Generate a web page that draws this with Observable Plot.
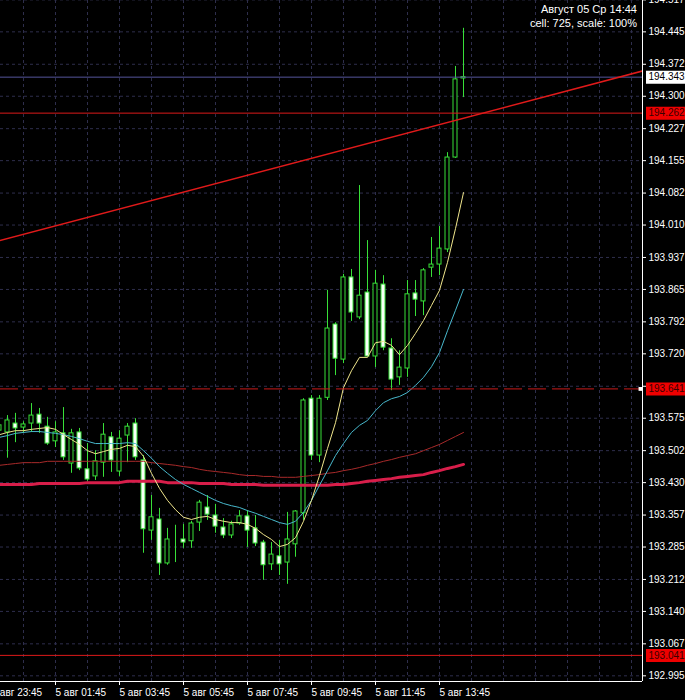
<!DOCTYPE html>
<html>
<head>
<meta charset="utf-8">
<script src="https://cdn.jsdelivr.net/npm/d3@7"></script>
<script src="https://cdn.jsdelivr.net/npm/@observablehq/plot@0.6"></script>
<style>
html,body{margin:0;padding:0;background:#000;overflow:hidden;}
#chart{position:relative;width:685px;height:700px;background:#000;}
#chart svg{display:block;}
#info{position:absolute;right:48px;top:2px;color:#fff;font:11px "Liberation Sans",Arial,sans-serif;text-align:right;line-height:14px;}
</style>
</head>
<body>
<div id="chart"></div>
<script>
// ---- Data (M15 bars, 5 авг, prices) ----
const firstBarMinute = 0;      // 00:00, 5 авг
const barMinutes = 15;
const open = [193.547,193.543,193.563,193.554,193.563,193.583,193.556,193.523,193.541,193.473,193.543,193.460,193.444,193.475,193.532,193.455,193.536,193.563,193.480,193.322,193.347,193.248,193.300,193.302,193.298,193.340,193.374,193.356,193.329,193.311,193.338,193.354,193.327,193.295,193.246,193.264,193.250,193.291,193.361,193.619,193.491,193.621,193.786,193.707,193.892,193.802,193.858,193.714,193.876,193.732,193.667,193.687,193.856,193.838,193.914,193.921,193.955,194.162,194.340];
const high = [193.570,193.581,193.586,193.567,193.608,193.597,193.577,193.567,193.599,193.550,193.552,193.518,193.502,193.563,193.543,193.547,193.563,193.574,193.491,193.401,193.372,193.327,193.334,193.336,193.343,193.390,193.401,193.381,193.349,193.343,193.367,193.367,193.356,193.300,193.295,193.300,193.363,193.367,193.619,193.626,193.626,193.863,193.790,193.899,193.910,194.099,193.975,193.908,193.896,193.754,193.727,193.885,193.885,193.912,193.982,194.007,194.173,194.367,194.453];
const low = [193.525,193.485,193.520,193.541,193.543,193.541,193.514,193.509,193.480,193.451,193.457,193.433,193.435,193.442,193.453,193.444,193.475,193.480,193.271,193.300,193.221,193.244,193.250,193.282,193.282,193.320,193.345,193.316,193.304,193.304,193.334,193.284,193.286,193.210,193.232,193.221,193.201,193.262,193.345,193.480,193.475,193.615,193.671,193.698,193.793,193.797,193.714,193.689,193.727,193.637,193.649,193.667,193.804,193.806,193.892,193.896,193.948,194.160,194.297];
const close = [193.559,193.570,193.552,193.561,193.581,193.563,193.518,193.543,193.487,193.541,193.462,193.437,193.478,193.538,193.480,193.529,193.556,193.487,193.325,193.352,193.248,193.302,193.300,193.295,193.338,193.385,193.358,193.331,193.311,193.336,193.354,193.322,193.293,193.244,193.268,193.246,193.302,193.365,193.615,193.491,193.619,193.777,193.709,193.892,193.813,193.851,193.714,193.878,193.734,193.662,193.689,193.854,193.842,193.908,193.921,193.957,194.162,194.338,194.343];

// moving averages
const maFast = [193.538,193.543,193.547,193.547,193.550,193.552,193.554,193.550,193.538,193.527,193.516,193.502,193.495,193.500,193.505,193.507,193.514,193.511,193.489,193.451,193.417,193.390,193.369,193.352,193.347,193.352,193.354,193.347,193.343,193.340,193.340,193.336,193.327,193.313,193.302,193.286,193.291,193.306,193.343,193.390,193.446,193.507,193.565,193.644,193.682,193.712,193.712,193.745,193.748,193.739,193.718,193.739,193.766,193.795,193.829,193.863,193.926,194.002,194.083];
const maMid = [193.532,193.536,193.541,193.543,193.545,193.545,193.543,193.541,193.538,193.534,193.529,193.523,193.518,193.518,193.518,193.518,193.520,193.518,193.502,193.485,193.466,193.451,193.437,193.426,193.417,193.408,193.399,193.390,193.383,193.378,193.374,193.367,193.361,193.354,193.347,193.340,193.336,193.343,193.363,193.390,193.424,193.457,193.491,193.518,193.543,193.559,193.570,193.592,193.610,193.619,193.624,193.633,193.649,193.667,193.691,193.723,193.772,193.818,193.865];
const maSlow = [193.469,193.471,193.473,193.475,193.475,193.475,193.478,193.478,193.478,193.478,193.478,193.478,193.478,193.478,193.478,193.478,193.478,193.478,193.478,193.475,193.473,193.471,193.469,193.466,193.464,193.460,193.457,193.455,193.453,193.451,193.448,193.446,193.446,193.444,193.444,193.442,193.442,193.442,193.444,193.446,193.448,193.451,193.453,193.457,193.460,193.464,193.469,193.473,193.478,193.482,193.487,193.491,193.495,193.502,193.509,193.516,193.525,193.534,193.543];
const maLong = [193.426,193.426,193.426,193.426,193.426,193.428,193.428,193.428,193.428,193.428,193.428,193.430,193.430,193.430,193.430,193.430,193.433,193.433,193.433,193.433,193.433,193.430,193.430,193.430,193.430,193.428,193.428,193.428,193.428,193.426,193.426,193.426,193.426,193.424,193.424,193.424,193.424,193.424,193.424,193.424,193.424,193.424,193.426,193.426,193.428,193.430,193.433,193.435,193.437,193.439,193.442,193.444,193.446,193.448,193.453,193.457,193.462,193.466,193.471];

// price axis ticks (193.647 is covered by the 193.641 level label)
const yTicks = [194.517,194.445,194.372,194.300,194.227,194.155,194.082,194.010,193.937,193.865,193.792,193.720,193.647,193.575,193.502,193.430,193.357,193.285,193.212,193.140,193.067,192.995];
const yHiddenLabels = [193.647];
// time axis: tick minutes (relative to 5 авг 00:00) and grid minutes
const xTicks = [-15,105,225,345,465,585,705,825];
const gridMinutes = [45,105,165,225,285,345,405,465,525,585,645,705,765,825,885,945,1005,1065,1125,1185];

// chart objects
const bidPrice = 194.343;
const levelPrices = [194.262, 193.041];
const dashedLevel = 193.641;
const trendMinutes = [0, 1206];
const trendPrices = [193.975, 194.357];
const priceLabels = [
  {price: 194.343, text: "194.343", bg: "#ffffff", fg: "#000000"},
  {price: 194.262, text: "194.262", bg: "#ee0000", fg: "#3a0000"},
  {price: 193.641, text: "193.641", bg: "#ee0000", fg: "#3a0000"},
  {price: 193.041, text: "193.041", bg: "#ee0000", fg: "#3a0000"}
];

// ---- build ----
const bars = open.map((o, i) => ({
  t: firstBarMinute + i * barMinutes, o, h: high[i], l: low[i], c: close[i],
  f: maFast[i], m: maMid[i], s: maSlow[i], L: maLong[i]
}));

const W = 685, H = 700, mR = 43, mB = 19;
const xDomain = [15 / 8, 643 * 15 / 8];
const yDomain = [192.9822, 194.5156];
const pxT = 15 / 8;               // minutes per pixel
const half = 2 * pxT;             // body half width
const green = "#38e038";
const grid = "#2e2e4c";
const font = "Liberation Sans, Arial, sans-serif";
const fmtT = m => {
  const mm = ((m % 1440) + 1440) % 1440;
  const hh = String(Math.floor(mm / 60)).padStart(2, "0");
  const mi = String(mm % 60).padStart(2, "0");
  return (m < 0 ? "4 авг " : "5 авг ") + hh + ":" + mi;
};
const fmtY = d => yHiddenLabels.includes(d) ? "" : d.toFixed(3);
const boxX1 = xDomain[1] + 4 * pxT;
const boxX2 = xDomain[1] + 60 * pxT;

const chart = Plot.plot({
  width: W, height: H,
  marginTop: 0, marginLeft: 0, marginRight: mR, marginBottom: mB,
  style: {background: "#000", color: "#fff", fontFamily: font, fontSize: "10px", overflow: "hidden"},
  x: {type: "linear", domain: xDomain},
  y: {type: "linear", domain: yDomain},
  marks: [
    Plot.ruleY(yTicks, {y: d => d, stroke: grid, strokeDasharray: "3,3"}),
    Plot.ruleX(gridMinutes, {x: d => d, stroke: grid, strokeDasharray: "3,3"}),
    // candles
    Plot.ruleX(bars, {x: "t", y1: "l", y2: "h", stroke: green}),
    Plot.rect(bars, {x1: d => d.t - half, x2: d => d.t + half, y1: "o", y2: "c",
      fill: d => d.c >= d.o ? "#000" : "#fafffa", stroke: green, strokeWidth: 1}),
    // moving averages
    Plot.line(bars, {x: "t", y: "L", stroke: "#d81e4a", strokeWidth: 3}),
    Plot.line(bars, {x: "t", y: "s", stroke: "#a82a2a", strokeWidth: 1}),
    Plot.line(bars, {x: "t", y: "m", stroke: "#48b8cc", strokeWidth: 1}),
    Plot.line(bars, {x: "t", y: "f", stroke: "#f0e68c", strokeWidth: 1}),
    // objects
    Plot.ruleY([bidPrice], {y: d => d, stroke: "#55559a"}),
    Plot.ruleY(levelPrices, {y: d => d, stroke: "#dd1a1a"}),
    Plot.ruleY([dashedLevel], {y: d => d, stroke: "#cc1a1a", strokeDasharray: "18,6"}),
    Plot.line(trendMinutes.map((t, i) => ({t, p: trendPrices[i]})), {x: "t", y: "p", stroke: "#e01a1a", clip: true}),
    Plot.dot([dashedLevel], {x: () => xDomain[1], y: d => d, symbol: "square", r: 2.2, fill: "#fff", dx: -2}),
    // axes
    Plot.ruleX([xDomain[1]], {stroke: "#fff"}),
    Plot.ruleY([yDomain[0]], {stroke: "#fff", x1: xDomain[0] - 10, x2: xDomain[1]}),
    Plot.axisY(yTicks, {anchor: "right", tickFormat: fmtY, tickSize: 3, tickPadding: 3,
      textAnchor: "start", fontSize: 10, stroke: "#fff", fill: "#fff", label: null}),
    Plot.axisX(xTicks, {anchor: "bottom", tickFormat: fmtT, tickSize: 4, tickPadding: 3,
      textAnchor: "start", fontSize: 10, stroke: "#fff", fill: "#fff", label: null}),
    // price labels on the scale
    Plot.ruleY(priceLabels, {y: "price", x1: boxX1, x2: boxX2, stroke: "bg", strokeWidth: 13}),
    Plot.text(priceLabels, {y: "price", x: boxX1, text: "text", fill: "fg", dx: 2, textAnchor: "start", fontSize: 10})
  ]
});
const root = document.getElementById("chart");
root.appendChild(chart);
const info = document.createElement("div");
info.id = "info";
info.innerHTML = "Август 05 Ср 14:44<br>cell: 725, scale: 100%";
root.appendChild(info);
</script>
</body>
</html>
